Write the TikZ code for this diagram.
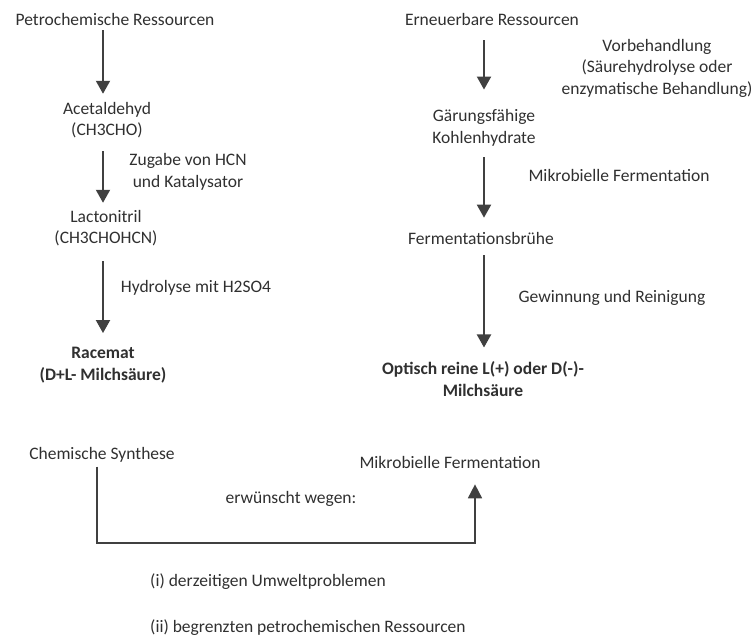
\documentclass[tikz,border=0pt]{standalone}
\usepackage{fontspec}
\setmainfont{Carlito}
\usetikzlibrary{arrows.meta,calc}
\definecolor{txt}{HTML}{303030}
\definecolor{arrc}{HTML}{404040}
\begin{document}
\begin{tikzpicture}[x=1pt,y=-1pt,
  lbl/.style={font=\fontsize{17.5}{21.5}\selectfont, text=txt, align=center, inner sep=0pt},
  bold/.style={font=\fontsize{17.5}{21.5}\selectfont\bfseries, text=txt, align=center, inner sep=0pt},
  flow/.style={draw=arrc, line width=2pt, -{Triangle[width=14pt,length=13pt]}},
  link/.style={draw=arrc, line width=1.8pt, -{Triangle[width=14pt,length=14pt]}}]
\useasboundingbox (0,0) rectangle (756,637);
% left column
\node[lbl] (petro) at (115,19) {Petrochemische Ressourcen};
\node[lbl] (acet) at (107,120) {Acetaldehyd\\(CH3CHO)};
\node[lbl] (hcn) at (188,172) {Zugabe von HCN\\und Katalysator};
\node[lbl] (lact) at (106,228) {Lactonitril\\(CH3CHOHCN)};
\node[lbl] (hydro) at (196,288) {Hydrolyse mit H2SO4};
\node[bold] (race) at (103,365) {Racemat\\(D+L- Milchsäure)};
% right column
\node[lbl] (ern) at (492,19) {Erneuerbare Ressourcen};
\node[lbl] (vor) at (657,68) {Vorbehandlung\\(Säurehydrolyse oder\\enzymatische Behandlung)};
\node[lbl] (gar) at (484,128) {Gärungsfähige\\Kohlenhydrate};
\node[lbl] (mikro) at (619,175) {Mikrobielle Fermentation};
\node[lbl] (brueh) at (481,238) {Fermentationsbrühe};
\node[lbl] (gew) at (612,298) {Gewinnung und Reinigung};
\node[bold] (opt) at (483,379) {Optisch reine L(+) oder D(-)-\\Milchsäure};
% bottom
\node[lbl] (chem) at (102,455) {Chemische Synthese};
\node[lbl] (mikro2) at (450,462) {Mikrobielle Fermentation};
\node[lbl] (erw) at (291,499) {erwünscht wegen:};
\node[lbl, anchor=west] (r1) at (150,582) {(i) derzeitigen Umweltproblemen};
\node[lbl, anchor=west] (r2) at (150,628) {(ii) begrenzten petrochemischen Ressourcen};
% left arrows
\draw[flow] ($(petro.south -| race)+(0,5)$) -- ($(acet.north -| race)+(0,-8)$);
\draw[flow] ($(acet.south -| race)+(0,13)$) -- ($(lact.north -| race)+(0,-7)$);
\draw[flow] ($(lact.south -| race)+(0,15)$) -- ($(race.north)+(0,-14)$);
% right arrows
\draw[flow] ($(ern.south -| gar)+(0,15)$) -- ($(gar.north)+(0,-20)$);
\draw[flow] ($(gar.south)+(0,11)$) -- ($(brueh.north -| gar)+(0,-14)$);
\draw[flow] ($(brueh.south -| gar)+(0,11)$) -- ($(opt.north -| gar)+(0,-14)$);
% bottom connector
\coordinate (start) at ($(chem.south)+(-5,4)$);
\coordinate (tip) at ($(mikro2.south)+(25,16)$);
\coordinate (low) at (0,543);
\draw[link] (start) |- (low -| tip) -- (tip);
\end{tikzpicture}
\end{document}
